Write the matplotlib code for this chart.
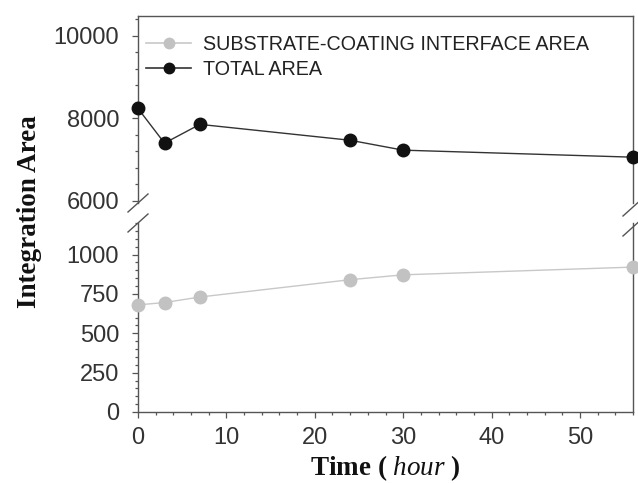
import matplotlib
matplotlib.use("Agg")
import matplotlib.pyplot as plt
from matplotlib.ticker import MultipleLocator, FixedLocator
from matplotlib.lines import Line2D

plt.rcParams["mathtext.fontset"] = "custom"
plt.rcParams["mathtext.it"] = "Liberation Serif:italic"
plt.rcParams["mathtext.rm"] = "Liberation Serif"
plt.rcParams["mathtext.bf"] = "Liberation Serif:bold"

# ---- data ----
time_h = [0, 3, 7, 24, 30, 56]
substrate_area = [680, 695, 730, 840, 871, 920]
total_area = [8240, 7400, 7855, 7470, 7230, 7060]
label_substrate = "SUBSTRATE-COATING INTERFACE AREA"
label_total = "TOTAL AREA"
xlabel = "Time ( $\\mathit{hour}$ )"
ylabel = "Integration Area"

W, H = 638, 483
fig = plt.figure(figsize=(W / 100, H / 100), dpi=100)

def fx(px):
    return px / W

def fy(py):
    return 1 - py / H

left, right = 138, 633
top_t, top_b = 16, 203
bot_t, bot_b = 223, 412

ax_top = fig.add_axes([fx(left), fy(top_b), fx(right) - fx(left), fy(top_t) - fy(top_b)])
ax_bot = fig.add_axes([fx(left), fy(bot_b), fx(right) - fx(left), fy(bot_t) - fy(bot_b)])

spine_col = "#555555"
tick_col = "#333333"
sans = ["Liberation Sans", "DejaVu Sans"]
serif = ["Liberation Serif", "DejaVu Serif"]

sub_mk = "#c2c2c2"
sub_ln = "#c8c8c8"
tot_mk = "#111111"
tot_ln = "#333333"

ax_bot.plot(time_h, substrate_area, color=sub_ln, lw=1.0, marker="o", ms=9,
            mfc=sub_mk, mec=sub_mk, clip_on=False, zorder=3)
ax_top.plot(time_h, total_area, color=tot_ln, lw=1.0, marker="o", ms=9,
            mfc=tot_mk, mec=tot_mk, clip_on=False, zorder=4)

for ax in (ax_top, ax_bot):
    ax.set_xlim(0, 56)
    for s in ax.spines.values():
        s.set_color(spine_col)
        s.set_linewidth(1.0)
    ax.tick_params(which="both", direction="out", color=spine_col, labelcolor=tick_col,
                   labelsize=17, width=0.9)
    ax.tick_params(which="major", length=4.5)
    ax.tick_params(which="minor", length=2.5)
    ax.tick_params(axis="y", pad=9)
    ax.tick_params(axis="x", pad=6)

ax_top.set_ylim(5950, 10480)
ax_bot.set_ylim(0, 1200)

ax_top.yaxis.set_major_locator(FixedLocator([6000, 8000, 10000]))
ax_top.yaxis.set_minor_locator(MultipleLocator(400))
ax_bot.yaxis.set_major_locator(FixedLocator([0, 250, 500, 750, 1000]))
ax_bot.yaxis.set_minor_locator(MultipleLocator(50))
ax_bot.xaxis.set_major_locator(MultipleLocator(10))
ax_bot.xaxis.set_minor_locator(MultipleLocator(2))

ax_top.spines["bottom"].set_visible(False)
ax_bot.spines["top"].set_visible(False)
ax_top.tick_params(axis="x", which="both", bottom=False, top=False, labelbottom=False)
ax_top.tick_params(axis="y", which="both", right=False)
ax_bot.tick_params(axis="y", which="both", right=False)
ax_bot.tick_params(axis="x", which="both", top=False)

for lab in ax_top.get_yticklabels() + ax_bot.get_yticklabels() + ax_bot.get_xticklabels():
    lab.set_family(sans)

# break marks
def slash(cx, cy):
    l = Line2D([fx(cx - 10), fx(cx + 10)], [fy(cy + 9), fy(cy - 9)],
               transform=fig.transFigure, color=spine_col, lw=1.0)
    fig.add_artist(l)

slash(left, 203)
slash(left, 223)
slash(right, 207)
slash(right, 227)

# legend
h_sub = Line2D([], [], color=sub_ln, lw=1.2, marker="o", ms=7.5, mfc=sub_mk, mec=sub_mk)
h_tot = Line2D([], [], color=tot_ln, lw=1.2, marker="o", ms=7.5, mfc=tot_mk, mec=tot_mk)
leg = ax_top.legend([h_sub, h_tot], [label_substrate, label_total],
                    loc="upper left", bbox_to_anchor=(fx(146), fy(35)),
                    bbox_transform=fig.transFigure, frameon=False,
                    prop={"family": sans, "size": 14.2}, handlelength=2.3,
                    handletextpad=0.6, labelspacing=0.31, borderpad=0, borderaxespad=0)
for t in leg.get_texts():
    t.set_color("#222222")

fig.text(fx(385), fy(468), xlabel, ha="center", va="center", fontsize=19.5,
         fontweight="bold", family=serif, color="#111111")
fig.text(fx(30), fy(212), ylabel, ha="center", va="center", fontsize=19.5,
         fontweight="bold", family=serif, rotation=90, color="#111111")

fig.savefig("out.png", dpi=100)
